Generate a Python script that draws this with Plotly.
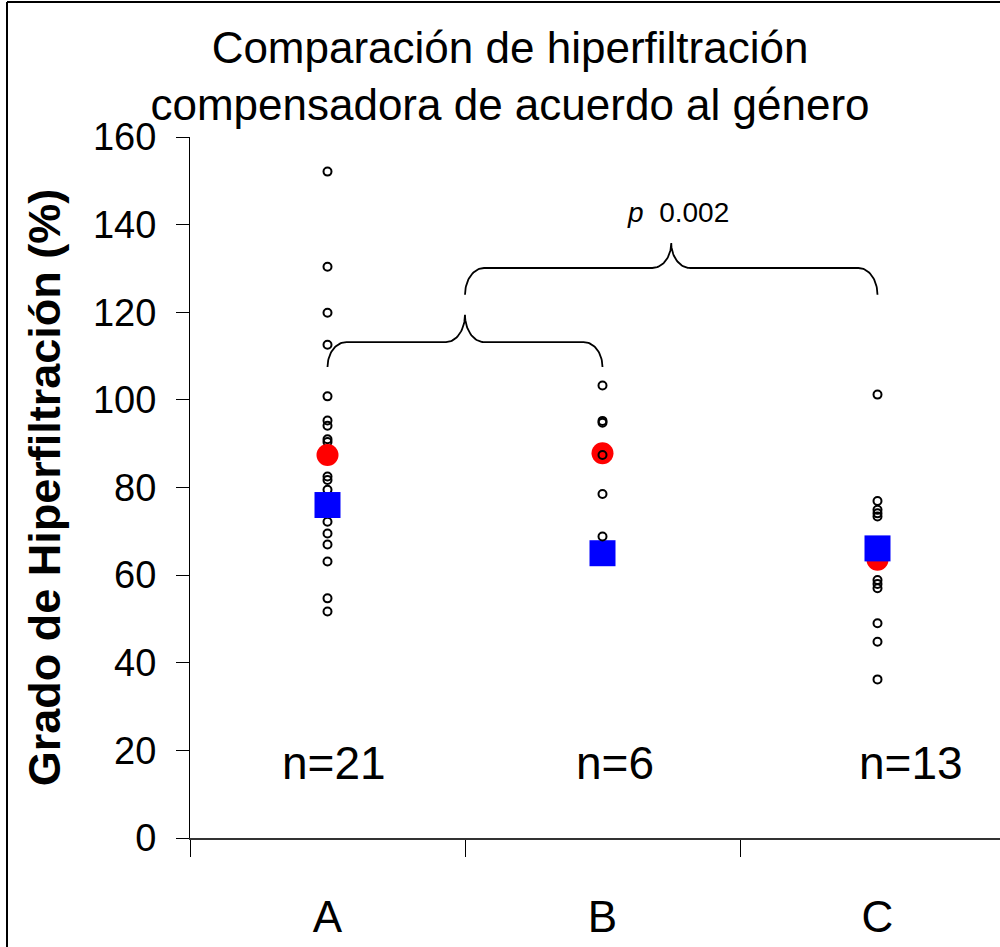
import numpy as np
import plotly.graph_objects as go

# ---------------- data ----------------
groups = ["A", "B", "C"]
n_labels = ["n=21", "n=6", "n=13"]

values_A = [152.1, 130.4, 119.9, 112.6, 100.8, 95.3, 94.1, 91.0, 90.4, 82.5, 81.7,
            79.5, 77.2, 75.8, 74.6, 72.2, 69.5, 67.0, 63.1, 54.7, 51.7]
values_B = [103.3, 95.2, 94.8, 87.4, 78.5, 68.8]
values_C = [101.2, 76.9, 74.9, 74.1, 73.4, 64.5, 63.0, 58.9, 58.0, 57.0, 49.0, 44.8, 36.2]

red_means = [87.4, 87.8, 63.5]
blue_values = [76.0, 65.0, 66.1]

y_ticks = [0, 20, 40, 60, 80, 100, 120, 140, 160]
p_text = "<i>p</i>  0.002"

# brace heights (data units)
brace1 = dict(xa=0.0, xb=1.0, y_end=107.5, y_bar=113.2, y_tip=119.4)
brace2 = dict(xa=0.5, xb=2.0, y_end=124.0, y_bar=130.1, y_tip=135.8)

# ---------------- layout constants ----------------
W, H = 1000, 947
ML, MR, MT, MB = 190, 0, 137, 109
PX_PER_CAT = 275
FONT = "Arial, Liberation Sans, sans-serif"

x_range = [-0.5, -0.5 + (W - ML - MR) / PX_PER_CAT]


def brace_path(xa, xb, y_end, y_bar, y_tip, rx=0.069):
    xm = (xa + xb) / 2
    t = np.linspace(0, np.pi / 2, 25)
    s1x = xa + rx - rx * np.cos(t)
    s1y = y_end + (y_bar - y_end) * np.sin(t)
    s2x = xm - rx + rx * np.sin(t)
    s2y = y_tip - (y_tip - y_bar) * np.cos(t)
    left_x = np.concatenate([s1x, s2x])
    left_y = np.concatenate([s1y, s2y])
    right_x = (2 * xm - left_x)[::-1]
    right_y = left_y[::-1]
    return np.concatenate([left_x, right_x]), np.concatenate([left_y, right_y])


fig = go.Figure()

def circles(idx, vals):
    return go.Scatter(
        x=[idx] * len(vals), y=vals, mode="markers",
        marker=dict(symbol="circle-open", size=8, color="black", line=dict(width=2, color="black")),
        showlegend=False, hoverinfo="y")

fig.add_trace(circles(0, values_A))
fig.add_trace(circles(2, values_C))

fig.add_trace(go.Scatter(
    x=list(range(len(groups))), y=red_means, mode="markers",
    marker=dict(symbol="circle", size=22, color="#ff0000", line=dict(width=0)),
    showlegend=False))
fig.add_trace(go.Scatter(
    x=list(range(len(groups))), y=blue_values, mode="markers",
    marker=dict(symbol="square", size=26, color="#0000ff", line=dict(width=0)),
    showlegend=False))

fig.add_trace(circles(1, values_B))

for b in (brace1, brace2):
    bx, by = brace_path(**b)
    fig.add_trace(go.Scatter(x=bx, y=by, mode="lines",
                             line=dict(color="black", width=1.8),
                             showlegend=False, hoverinfo="skip"))

# n labels
n_x_offsets = [0.025, 1.047, 2.12]
for lab, xo in zip(n_labels, n_x_offsets):
    fig.add_annotation(x=xo, y=17.1, text=lab, showarrow=False,
                       font=dict(size=46, color="black", family=FONT),
                       xanchor="center", yanchor="middle")

# p value
fig.add_annotation(x=1.276, y=142.7, text=p_text, showarrow=False,
                   font=dict(size=28, color="black", family=FONT),
                   xanchor="center", yanchor="middle")

# outer frame (top and left)
pw = W - ML - MR
ph = H - MT - MB
fx = (7 - ML) / pw
fy = (H - MB - 2) / ph
fig.add_shape(type="line", xref="paper", yref="paper", x0=fx, x1=(W - ML) / pw + 0.01,
              y0=fy, y1=fy, line=dict(color="black", width=2))
fig.add_shape(type="line", xref="paper", yref="paper", x0=fx, x1=fx,
              y0=fy, y1=-MB / ph - 0.01, line=dict(color="black", width=2))

fig.update_layout(
    width=W, height=H,
    margin=dict(l=ML, r=MR, t=MT, b=MB, pad=0, autoexpand=False),
    paper_bgcolor="white", plot_bgcolor="white",
    font=dict(family=FONT, color="black"),
    title=dict(text="Comparación de hiperfiltración<br>compensadora de acuerdo al género",
               x=0.51, xanchor="center", y=1 - 63 / H, yanchor="middle",
               xref="container", yref="container",
               font=dict(size=44, family=FONT, color="black")),
    showlegend=False,
)

fig.update_xaxes(
    automargin=False,
    range=x_range, showgrid=False, zeroline=False,
    showline=True, linecolor="#333", linewidth=2,
    tickmode="array", tickvals=list(range(len(groups))), ticktext=groups,
    ticks="", tickfont=dict(size=44, family=FONT, color="black"),
    ticklabelstandoff=39,
    minor=dict(tickmode="array", tickvals=[-0.5, 0.5, 1.5, 2.5], ticks="outside",
               ticklen=17, tickcolor="black", tickwidth=1),
)

fig.update_yaxes(
    automargin=False,
    range=[0, 160], showgrid=False, zeroline=False,
    showline=True, linecolor="black", linewidth=1,
    tickmode="array", tickvals=y_ticks,
    ticks="outside", ticklen=13, tickcolor="black", tickwidth=1,
    tickfont=dict(size=38, family=FONT, color="black"),
    ticklabelstandoff=12,
    title=dict(text="<b>Grado de Hiperfiltración (%)</b>",
               font=dict(size=45, family=FONT, color="black"), standoff=18),
)

fig.write_html("out.html")
